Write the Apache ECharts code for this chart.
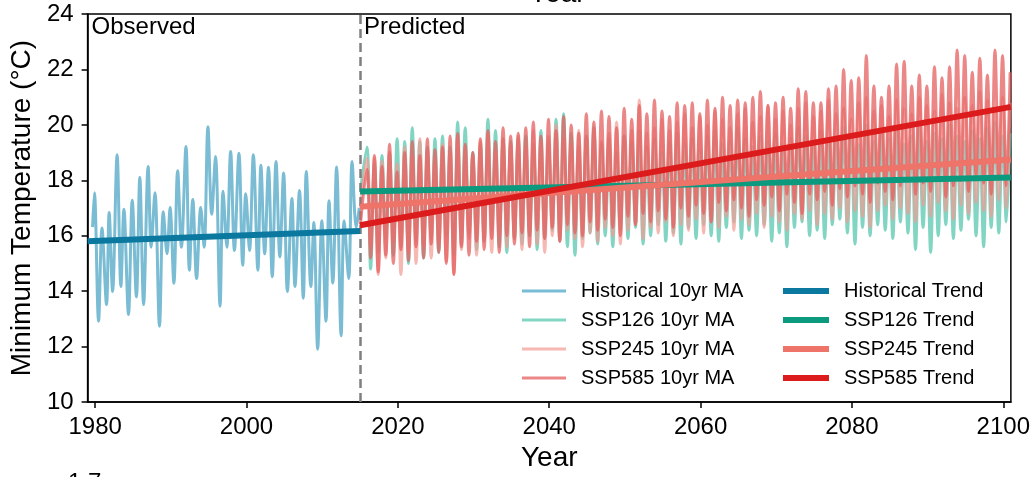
<!DOCTYPE html>
<html>
<head>
<meta charset="utf-8">
<script src="https://cdn.jsdelivr.net/npm/echarts@6/dist/echarts.min.js"></script>
<style>
html,body{margin:0;padding:0;background:#fff;}
#chart{width:1033px;height:477px;}
</style>
</head>
<body>
<div id="chart"></div>
<script>
// ---------- DATA ----------
const xTickLabels = [1980, 2000, 2020, 2040, 2060, 2080, 2100];
const splitYear = 2015;

// Historical 10yr MA (observed), read as peaks/troughs
const histYears = [1979.66,1979.9,1980.45,1980.9,1981.5,1981.85,1982.3,1982.9,1983.4,1983.8,
  1984.4,1984.9,1985.45,1985.9,1986.4,1987.0,1987.4,1987.9,1988.5,1989.0,
  1989.5,1989.9,1990.4,1990.9,1991.4,1992.0,1992.45,1992.9,1993.4,1993.95,
  1994.4,1994.9,1995.4,1995.9,1996.5,1996.9,1997.4,1997.9,1998.4,1999.0,
  1999.5,1999.9,2000.4,2000.9,2001.5,2001.9,2002.4,2002.9,2003.4,2003.9,
  2004.4,2004.9,2005.4,2006.0,2006.4,2007.0,2007.5,2007.9,2008.5,2008.9,
  2009.4,2009.95,2010.5,2010.9,2011.4,2011.9,2012.5,2012.9,2013.5,2013.95,
  2014.5,2014.9];
const histValues = [16.31,17.55,12.92,16.28,13.52,16.84,13.99,18.92,14.17,16.96,
  13.16,17.28,13.79,18.11,13.52,18.5,15.59,17.55,12.74,16.87,
  15.35,17.02,14.29,18.35,15.59,19.22,14.76,17.31,14.46,17.02,
  15.59,19.93,16.78,18.86,13.46,17.61,15.59,19.04,15.47,18.98,
  14.94,17.52,15.47,18.92,14.76,18.54,15.35,18.47,14.52,18.68,
  15.24,18.26,13.99,17.34,14.17,17.63,13.75,18.32,14.17,16.48,
  11.91,16.54,12.92,17.26,14.29,18.48,12.39,16.54,14.46,18.68,
  16.3,17.0];

// Predicted series: one peak and one trough per year, 2015..2100
const predFirstYear = 2015;
const ssp126Peaks = [19.2,18.6,18.9,19.0,19.5,19.4,19.9,19.4,19.2,19.5,
  19.6,19.2,20.1,19.9,19.0,19.3,20.2,19.8,19.5,19.4,
  19.5,19.6,19.3,19.8,19.4,20.2,20.4,19.7,19.2,19.6,
  19.9,19.3,19.5,19.0,19.6,19.4,19.8,19.2,19.5,19.0,
  19.4,19.7,19.3,19.5,19.1,19.6,19.8,19.3,19.4,19.9,
  19.5,19.2,19.6,19.4,19.7,19.3,19.5,19.9,19.6,19.2,
  19.8,19.5,19.4,19.9,19.6,19.3,20.0,19.4,19.7,19.5,
  19.8,19.3,19.6,19.9,19.4,19.7,19.5,20.0,19.6,19.4,
  19.8,19.5,19.9,20.1,19.6,19.7];
const ssp126Troughs = [17.6,14.8,15.4,15.9,15.3,15.6,15.0,15.8,15.2,15.9,
  15.4,16.0,15.3,15.7,16.1,15.5,15.8,16.2,15.6,15.4,
  15.9,15.7,16.0,15.5,15.9,16.2,15.8,15.6,15.3,15.9,
  16.1,15.7,16.0,15.6,16.2,15.9,16.3,15.7,16.0,16.4,
  15.8,16.1,15.7,16.3,15.9,16.4,16.0,15.8,16.3,16.5,
  15.9,16.2,16.0,16.4,15.8,16.1,15.6,16.3,16.5,16.0,
  16.2,15.9,16.4,16.6,16.1,15.7,16.3,16.0,16.4,16.2,
  15.9,16.5,16.1,15.5,16.3,15.4,16.0,16.4,15.9,16.2,
  16.6,16.0,15.6,16.3,16.1,16.5];
const ssp245Peaks = [18.8,18.8,18.7,19.0,18.6,19.2,18.9,19.5,19.1,18.8,
  19.3,19.0,19.6,19.2,18.9,19.4,19.7,19.1,19.5,19.3,
  19.6,19.2,19.8,19.4,19.6,20.0,19.5,19.3,19.8,19.6,
  19.9,19.4,19.7,20.1,19.6,19.8,20.9,19.7,19.9,20.2,
  19.8,20.1,20.4,19.9,20.3,20.0,20.5,20.2,19.9,20.4,
  20.6,20.1,20.3,20.7,20.2,20.5,20.0,20.6,20.8,20.3,
  20.5,20.9,20.4,20.6,20.2,20.8,21.0,20.5,20.7,20.3,
  20.9,20.6,20.4,21.0,20.7,20.5,21.1,20.8,20.6,21.0,
  20.7,21.2,20.9,20.6,21.0,20.8];
const ssp245Troughs = [17.0,15.6,14.6,15.2,15.8,14.6,15.4,15.0,15.6,15.2,
  15.7,15.1,14.6,15.5,15.9,15.3,15.8,15.4,16.0,15.6,
  15.9,15.5,16.1,15.7,15.4,16.0,15.8,16.2,15.9,15.6,
  16.1,15.8,16.3,16.0,15.7,16.2,16.4,15.9,16.3,16.1,
  16.5,16.0,16.4,16.2,16.6,16.1,16.5,16.3,16.7,16.2,
  16.6,16.4,16.8,16.3,16.7,16.5,16.2,16.8,16.6,16.9,
  16.4,16.8,16.6,17.0,16.5,16.9,16.7,16.3,16.9,17.1,
  16.6,17.0,16.8,16.5,17.1,16.7,17.2,16.9,16.6,17.1,
  16.8,17.2,16.9,16.7,17.3,17.0];
const ssp585Peaks = [18.4,18.9,18.5,19.3,18.3,19.0,19.4,18.9,19.5,19.1,
  19.2,19.6,19.7,19.3,19.0,19.5,19.8,19.4,19.9,19.6,
  19.7,19.9,20.1,19.6,20.2,19.8,20.3,20.0,19.7,20.4,
  20.1,20.5,20.3,19.9,20.6,20.2,20.7,20.4,20.9,20.5,
  20.3,20.8,20.7,20.8,20.4,20.9,20.6,21.0,20.7,20.9,
  20.8,21.0,21.2,20.7,20.8,21.0,20.6,21.3,21.2,20.8,
  20.8,21.3,21.4,22.0,21.6,21.7,22.5,21.4,21.0,21.4,
  22.2,22.3,21.4,21.8,21.4,22.1,21.7,22.1,22.7,22.5,
  21.9,22.4,21.8,22.7,22.5,21.9];
const ssp585Troughs = [16.4,15.2,14.7,15.3,15.0,15.5,15.1,15.6,15.2,15.7,
  15.4,15.0,14.6,15.6,15.3,15.8,15.5,15.9,15.4,16.0,
  15.7,16.1,15.6,16.2,15.9,16.3,15.8,16.4,16.1,16.0,
  16.5,16.2,16.6,16.3,16.0,16.7,16.4,16.8,16.5,16.9,
  16.6,16.3,17.0,16.7,17.1,16.8,16.5,17.2,16.9,17.3,
  17.0,16.7,17.3,17.1,17.4,16.9,17.5,17.2,16.8,17.5,
  17.3,17.6,17.1,17.7,17.4,17.8,17.5,17.2,17.9,17.6,
  17.3,17.8,18.0,17.5,17.9,17.6,18.1,17.4,17.8,18.0,
  17.6,18.2,17.9,17.5,18.1,17.8];

// Linear trends: [startYear, startValue, endYear, endValue]
const histTrend   = [1979, 15.80, 2015, 16.17];
const ssp126Trend = [2015, 17.60, 2101, 18.10];
const ssp245Trend = [2015, 17.05, 2101, 18.75];
const ssp585Trend = [2015, 16.38, 2101, 20.65];

const maNames = ['Historical 10yr MA','SSP126 10yr MA','SSP245 10yr MA','SSP585 10yr MA'];
const trendNames = ['Historical Trend','SSP126 Trend','SSP245 Trend','SSP585 Trend'];

// ---------- BUILD ----------
const FONT = "'Liberation Sans', Arial, Helvetica, sans-serif";
function pairs(xs, ys){ return xs.map((x,i)=>[x, ys[i]]); }
function buildPred(peaks, troughs){
  const d = [];
  for (let i = 0; i < peaks.length; i++) {
    const yr = predFirstYear + i;
    d.push([i === 0 ? yr + 0.05 : yr + 0.4, troughs[i]]);
    d.push([yr + 0.9, peaks[i]]);
  }
  return d;
}
function trendData(t){ return [[t[0], t[1]], [t[2], t[3]]]; }

const C = {
  hist: '#79bcd3', histT: '#0b789f',
  s126: '#4fc3aa', s126T: '#0b9a7e',
  s245: '#f29a93', s245T: '#ee7369',
  s585: '#e45f5f', s585T: '#dc1c1c'
};

const chart = echarts.init(document.getElementById('chart'), null, {renderer:'canvas'});

function maSeries(name, data, color, opacity, z){
  return {name, type:'line', data, showSymbol:false, symbol:'none', smooth:0.35,
    lineStyle:{color, width:3, opacity}, itemStyle:{color}, z, animation:false};
}
function trendSeries(name, data, color, z){
  return {name, type:'line', data, showSymbol:false, symbol:'none',
    lineStyle:{color, width:6, cap:'butt'}, itemStyle:{color}, z, animation:false};
}

const annotLabel = {show:true, position:'right', distance:4, color:'#000', opacity:1, fontSize:24, fontFamily:FONT};

const series = [
  Object.assign(maSeries(maNames[0], pairs(histYears, histValues), C.hist, 1, 2), {
    markLine:{silent:true, symbol:'none', label:{show:false},
      lineStyle:{type:[9,5], color:'#7f7f7f', width:2.5},
      data:[{xAxis: splitYear}]}
  }),
  maSeries(maNames[1], buildPred(ssp126Peaks, ssp126Troughs), C.s126, 0.7, 3),
  maSeries(maNames[2], buildPred(ssp245Peaks, ssp245Troughs), C.s245, 0.7, 4),
  maSeries(maNames[3], buildPred(ssp585Peaks, ssp585Troughs), C.s585, 0.75, 5),
  trendSeries(trendNames[0], trendData(histTrend), C.histT, 6),
  trendSeries(trendNames[1], trendData(ssp126Trend), C.s126T, 7),
  trendSeries(trendNames[2], trendData(ssp245Trend), C.s245T, 8),
  trendSeries(trendNames[3], trendData(ssp585Trend), C.s585T, 9),
  {name:'annot', type:'scatter', symbolSize:0, z:10, silent:true,
    itemStyle:{opacity:1},
    data:[
      {value:[1979, 23.5], label:Object.assign({formatter:'Observed'}, annotLabel)},
      {value:[splitYear, 23.5], label:Object.assign({formatter:'Predicted'}, annotLabel)}
    ],
    label:annotLabel
  }
];

const legendText = {fontSize:20, color:'#000', fontFamily:FONT, padding:[0,0,0,10], lineHeight:20};
const maLegendColors = ['#79bcd3','#84d5c3','#f6b8b3','#eb8787'];

const option = {
  animation:false,
  backgroundColor:'#fff',
  grid:{left:87, top:14, right:21, bottom:70, show:true, borderColor:'#000', borderWidth:1.5, backgroundColor:'transparent'},
  xAxis:{type:'value', min:1979, max:2101,
    name:'Year', nameLocation:'middle', nameGap:41,
    nameTextStyle:{fontSize:28, color:'#000', fontFamily:FONT},
    axisLine:{show:true, lineStyle:{color:'#000', width:1.5}},
    axisTick:{show:true, length:6, customValues:xTickLabels, lineStyle:{color:'#000', width:1.5}},
    axisLabel:{customValues:xTickLabels, fontSize:24, color:'#000', margin:13, fontFamily:FONT,
      formatter:(v)=>String(v)},
    splitLine:{show:false}},
  yAxis:{type:'value', min:10, max:24, interval:2,
    name:'Minimum Temperature (°C)', nameLocation:'middle', nameGap:46,
    nameTextStyle:{fontSize:28, color:'#000', fontFamily:FONT},
    axisLine:{show:true, lineStyle:{color:'#000', width:1.5}},
    axisTick:{show:true, length:6, lineStyle:{color:'#000', width:1.5}},
    axisLabel:{fontSize:24, color:'#000', margin:14, fontFamily:FONT},
    splitLine:{show:false}},
  legend:[
    {orient:'vertical', left:522, top:281, padding:0, itemWidth:44, itemHeight:3, itemGap:9, icon:'rect',
     textStyle:legendText, selectedMode:false,
     data: maNames.map((n,i)=>({name:n, itemStyle:{color:maLegendColors[i]}}))},
    {orient:'vertical', left:783, top:281, padding:0, itemWidth:46, itemHeight:6, itemGap:9, icon:'rect',
     textStyle:legendText, selectedMode:false,
     data: trendNames.map((n,i)=>({name:n, itemStyle:{color:[C.histT,C.s126T,C.s245T,C.s585T][i]}}))}
  ],
  graphic:[
    {type:'text', left:529, top:-20, silent:true,
     style:{text:'Year', fontSize:28, fill:'#000', fontFamily:FONT}},
    {type:'text', left:68, top:471, silent:true,
     style:{text:'1.7', fontSize:24, fill:'#000', fontFamily:FONT}}
  ],
  series
};
chart.setOption(option);
</script>
</body>
</html>
